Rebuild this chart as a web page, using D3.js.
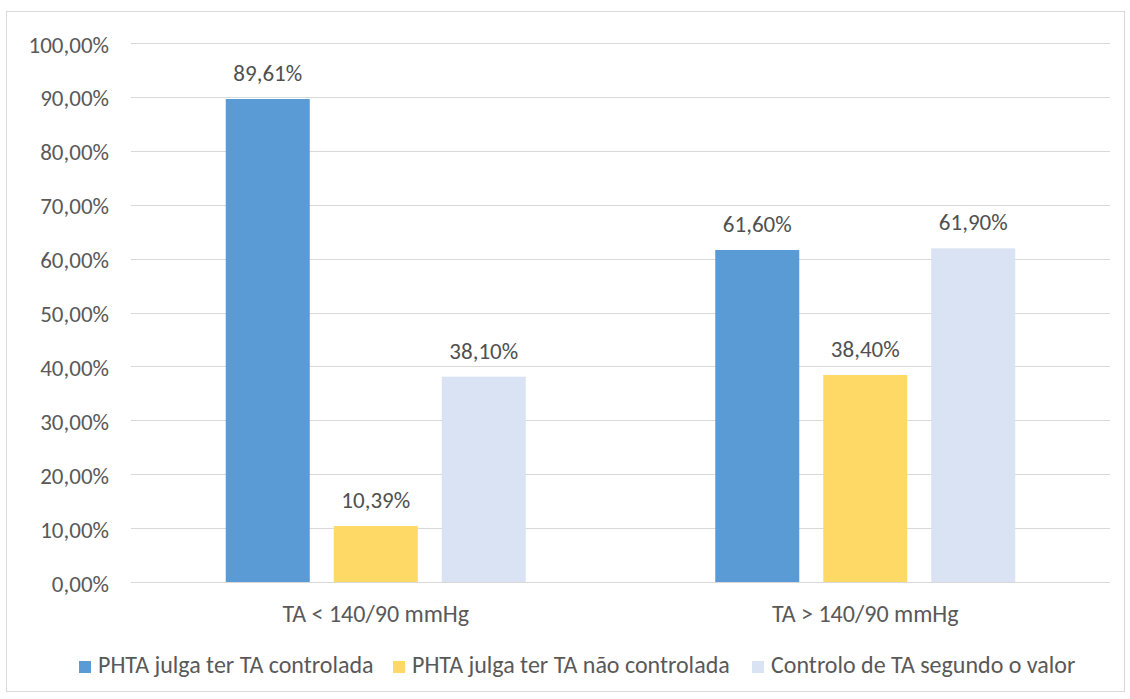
<!DOCTYPE html>
<html><head><meta charset="utf-8">
<script src="https://cdn.jsdelivr.net/npm/d3@7"></script>
<style>body{margin:0;background:#fff}svg{display:block}</style>
</head><body>
<svg id="c" width="1130" height="699"></svg>
<script>
const categories = ["TA < 140/90 mmHg", "TA > 140/90 mmHg"];
const seriesNames = ["PHTA julga ter TA controlada", "PHTA julga ter TA não controlada", "Controlo de TA segundo o valor"];
const seriesColors = ["#5B9BD5", "#FFD966", "#DAE3F3"];
const valuesControlada = [89.61, 61.60];
const valuesNaoControlada = [10.39, 38.40];
const valuesSegundoValor = [38.10, 61.90];
const yTicks = [0, 10, 20, 30, 40, 50, 60, 70, 80, 90, 100];

const seriesValues = [valuesControlada, valuesNaoControlada, valuesSegundoValor];
const font = "Carlito, Calibri, Lato, sans-serif";
const txt = "#595959";
const fmt = v => v.toFixed(2).replace(".", ",") + "%";

const svg = d3.select("#c");
svg.append("rect").attr("x", 6.5).attr("y", 11.5).attr("width", 1118).attr("height", 680)
  .attr("fill", "#fff").attr("stroke", "#D9D9D9");

const pLeft = 131, pRight = 1110, pTop = 43, pBottom = 582;
const y = d3.scaleLinear().domain([0, 100]).range([pBottom, pTop]);
const x0 = d3.scaleBand().domain(categories).range([pLeft, pRight]).padding(0);
const groupW = 300;
const x1 = d3.scaleBand().domain(d3.range(3)).range([0, groupW]).paddingInner(0.222).paddingOuter(0);

// gridlines
svg.append("g").selectAll("line").data(yTicks).join("line")
  .attr("x1", pLeft).attr("x2", pRight)
  .attr("y1", d => Math.round(y(d)) + 0.5).attr("y2", d => Math.round(y(d)) + 0.5)
  .attr("stroke", "#D9D9D9").attr("stroke-width", 1);

// y axis labels
const yAxis = d3.axisLeft(y).tickValues(yTicks).tickSize(0).tickPadding(0).tickFormat(fmt);
const gy = svg.append("g").attr("transform", `translate(109,0)`).call(yAxis);
gy.select(".domain").remove();
gy.selectAll("text").attr("font-family", font).attr("font-size", 23).attr("fill", txt)
  .attr("dy", 9);

// x axis labels
const xAxis = d3.axisBottom(x0).tickSize(0).tickPadding(0);
const gx = svg.append("g").attr("transform", `translate(0,${pBottom + 40})`).call(xAxis);
gx.select(".domain").remove();
gx.selectAll("text").attr("font-family", font).attr("font-size", 24).attr("fill", txt)
  .attr("dy", 0).attr("y", 0);

// bars
const groups = svg.append("g").selectAll("g").data(categories).join("g")
  .attr("transform", d => `translate(${x0(d) + x0.bandwidth() / 2 - groupW / 2},0)`);

groups.each(function (cat, ci) {
  const g = d3.select(this);
  const data = seriesValues.map((vals, si) => ({ si, v: vals[ci] }));
  g.selectAll("rect").data(data).join("rect")
    .attr("x", d => x1(d.si)).attr("width", x1.bandwidth())
    .attr("y", d => y(d.v)).attr("height", d => pBottom - y(d.v))
    .attr("fill", d => seriesColors[d.si]);
  g.selectAll("text").data(data).join("text")
    .attr("x", d => x1(d.si) + x1.bandwidth() / 2)
    .attr("y", d => y(d.v) - 18)
    .attr("text-anchor", "middle")
    .attr("font-family", font).attr("font-size", 23).attr("fill", "#505050")
    .text(d => fmt(d.v));
});

// legend
const legendX = [79, 393, 752];
const lg = svg.append("g").selectAll("g").data(seriesNames).join("g")
  .attr("transform", (d, i) => `translate(${legendX[i]},673)`);
lg.append("rect").attr("x", 0).attr("y", -12).attr("width", 12).attr("height", 12)
  .attr("fill", (d, i) => seriesColors[i]);
lg.append("text").attr("x", 19).attr("y", 0)
  .attr("font-family", font).attr("font-size", 24).attr("fill", txt).text(d => d);
</script>
</body></html>
